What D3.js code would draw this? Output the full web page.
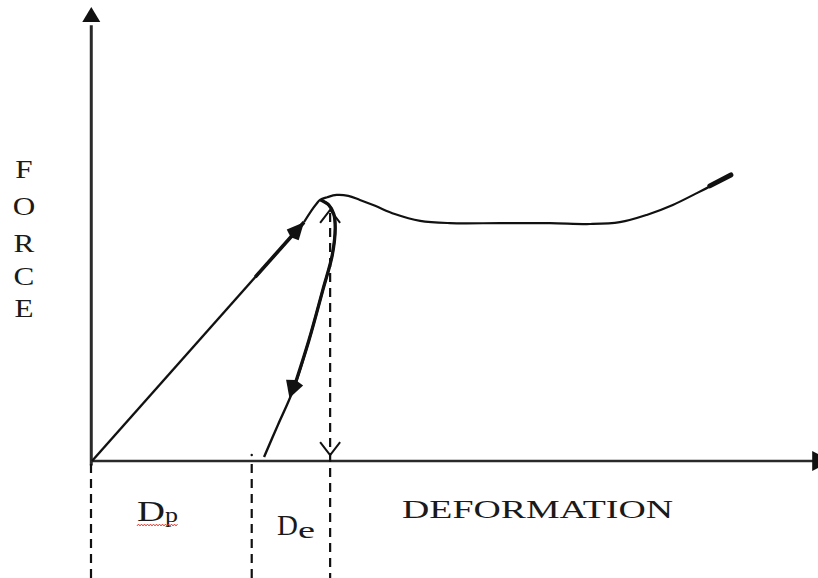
<!DOCTYPE html>
<html>
<head>
<meta charset="utf-8">
<script src="https://cdn.jsdelivr.net/npm/d3@7"></script>
<style>
  body { margin: 0; background: #fff; }
  svg { display: block; }
  text { font-family: "Liberation Serif", "Times New Roman", serif; fill: #1a1a1a; }
</style>
</head>
<body>
<div id="chart"></div>
<script>
// deformation (x) / force (y), in arbitrary units 0..100
const loadLine = [[0, 0], [29.2, 52.6]];
const loadCurve = [[29.2, 52.6], [30.2, 55.1], [30.9, 56.6], [31.4, 57.5], [32.4, 58.1], [33.7, 58.6],
  [35.3, 58.4], [36.9, 57.5], [39.0, 56.2], [41.7, 54.4], [45.2, 52.9], [49.3, 52.4], [56.2, 52.4],
  [63.1, 52.4], [68.6, 52.2], [72.7, 52.6], [76.4, 54.2], [80.0, 56.4], [83.3, 59.0], [85.5, 60.8],
  [88.0, 63.0]];
const loadEnd = [[85.1, 60.6], [88.0, 63.0]];
const unloadCurve = [[31.5, 57.5], [32.6, 56.4], [33.3, 54.4], [33.5, 51.3], [33.1, 45.4], [31.8, 37.7],
  [29.9, 26.7], [27.7, 15.6], [25.6, 7.9], [23.7, 0.9]];
// arrows: [from, tip]
const loadArrow = [[0, 0], [29.2, 52.6]];
const unloadArrow = [[29.9, 26.7], [27.2, 13.9]];
// dashed markers below the axis
const dashX = [0, 22.0, 32.8];
const peakDash = 32.8, peakTop = 54.6, dashBottom = -26;
const elasticMark = 22.0;

const yLetters = ["F", "O", "R", "C", "E"];
const xLabel = "DEFORMATION";

const width = 818, height = 578;

const svg = d3.select("#chart")
  .append("svg")
  .attr("width", width)
  .attr("height", height);

const x = d3.scaleLinear().domain([0, 100]).range([92, 818]);
const y = d3.scaleLinear().domain([0, 100]).range([461, 7]);

const ink = "#111";
const axisInk = "#2a2a2a";

// axes
svg.append("line")
  .attr("x1", x(-0.1)).attr("x2", x(-0.1))
  .attr("y1", y(-1)).attr("y2", y(96))
  .attr("stroke", axisInk).attr("stroke-width", 3);
svg.append("path")
  .attr("d", `M${x(-0.1)},${y(100)} L${x(-0.1) - 9},${y(96.7)} L${x(-0.1) + 9},${y(96.7)} Z`)
  .attr("fill", ink);

svg.append("line")
  .attr("x1", x(0)).attr("x2", x(99.5))
  .attr("y1", y(0)).attr("y2", y(0))
  .attr("stroke", axisInk).attr("stroke-width", 2.5);
svg.append("path")
  .attr("d", `M${x(99.2)},${y(0) - 10} L${x(101.8)},${y(0)} L${x(99.2)},${y(0) + 10} Z`)
  .attr("fill", ink);

// dashed verticals
const dashG = svg.append("g")
  .attr("stroke", ink).attr("stroke-width", 2.2)
  .attr("stroke-dasharray", "9,6");
dashX.forEach(d => {
  const top = d === peakDash ? peakTop : 0;
  dashG.append("line")
    .attr("x1", x(d) - (d === 0 ? 1 : 0)).attr("x2", x(d) - (d === 0 ? 1 : 0))
    .attr("y1", y(top) + (d === peakDash ? 0 : 3)).attr("y2", y(dashBottom));
});

svg.append("circle")
  .attr("cx", x(elasticMark)).attr("cy", y(0) - 6).attr("r", 1.2).attr("fill", ink);

// open chevrons on the peak line
const chev = (cx, cy, dir) => `M${cx - 10},${cy + dir * 13} L${cx},${cy} L${cx + 10},${cy + dir * 13}`;
svg.append("path").attr("d", chev(x(peakDash), y(55.3), 1))
  .attr("fill", "none").attr("stroke", ink).attr("stroke-width", 2);
svg.append("path").attr("d", chev(x(peakDash), y(1.3), -1))
  .attr("fill", "none").attr("stroke", ink).attr("stroke-width", 2);

// curves
const straight = d3.line().x(d => x(d[0])).y(d => y(d[1]));
const smooth = d3.line().x(d => x(d[0])).y(d => y(d[1])).curve(d3.curveCatmullRom.alpha(0.5));
const along = (seg, t) => [seg[0][0] + t * (seg[1][0] - seg[0][0]), seg[0][1] + t * (seg[1][1] - seg[0][1])];

svg.append("path").datum(loadLine).attr("d", straight)
  .attr("fill", "none").attr("stroke", ink).attr("stroke-width", 2.4);
svg.append("path").datum([along(loadLine, 0.77), loadLine[1]]).attr("d", straight)
  .attr("fill", "none").attr("stroke", ink).attr("stroke-width", 3.6);
svg.append("path").datum(loadCurve).attr("d", smooth)
  .attr("fill", "none").attr("stroke", ink).attr("stroke-width", 2.2);
svg.append("path").datum(loadEnd).attr("d", straight)
  .attr("fill", "none").attr("stroke", ink).attr("stroke-width", 5)
  .attr("stroke-linecap", "round");
svg.append("path").datum(unloadCurve).attr("d", smooth)
  .attr("fill", "none").attr("stroke", ink).attr("stroke-width", 2.4);
svg.append("path").datum(unloadCurve.slice(0, 8)).attr("d", smooth)
  .attr("fill", "none").attr("stroke", ink).attr("stroke-width", 3.3);

// filled arrowheads
function arrowHead(a, len, half) {
  const x0 = x(a[0][0]), y0 = y(a[0][1]), x1 = x(a[1][0]), y1 = y(a[1][1]);
  const L = Math.hypot(x1 - x0, y1 - y0);
  const ux = (x1 - x0) / L, uy = (y1 - y0) / L;
  const bx = x1 - ux * len, by = y1 - uy * len;
  return `M${x1},${y1} L${bx - uy * half},${by + ux * half} L${bx - ux * 3},${by - uy * 3} L${bx + uy * half},${by - ux * half} Z`;
}
svg.append("path").attr("d", arrowHead(loadArrow, 17, 8)).attr("fill", ink);
svg.append("path").attr("d", arrowHead(unloadArrow, 16, 9)).attr("fill", ink);

// y label, stacked letters
const yBase = [178, 215, 252, 285, 317];
svg.selectAll(".ylab")
  .data(yLetters)
  .join("text")
  .attr("class", "ylab")
  .attr("x", 24)
  .attr("y", (d, i) => yBase[i])
  .attr("text-anchor", "middle")
  .attr("font-size", 26)
  .attr("transform", (d, i) => `translate(24,${yBase[i]}) scale(1.2,1) translate(-24,${-yBase[i]})`)
  .text(d => d);

// x label
svg.append("text")
  .attr("x", 402).attr("y", 518)
  .attr("font-size", 26)
  .attr("textLength", 271)
  .attr("lengthAdjust", "spacingAndGlyphs")
  .text(xLabel);

// D_p and D_e
const dp = svg.append("text").attr("x", 137).attr("y", 521).attr("font-size", 29);
dp.append("tspan").attr("textLength", 28).attr("lengthAdjust", "spacingAndGlyphs").text("D");
dp.append("tspan").attr("x", 165).attr("y", 522).attr("font-size", 21)
  .attr("textLength", 13).attr("lengthAdjust", "spacingAndGlyphs").text("p");

const de = svg.append("text").attr("x", 277).attr("y", 535).attr("font-size", 29);
de.append("tspan").text("D");
de.append("tspan").attr("x", 298).attr("y", 538).attr("font-size", 24)
  .attr("textLength", 17).attr("lengthAdjust", "spacingAndGlyphs").text("e");

// spell-check squiggle under D_p
const sq = d3.range(137, 179, 1.5).map((px, i) => [px, 525 + (i % 2 ? -0.9 : 0.9)]);
svg.append("path")
  .attr("d", d3.line()(sq))
  .attr("fill", "none").attr("stroke", "#e0362c").attr("stroke-width", 1);
</script>
</body>
</html>
